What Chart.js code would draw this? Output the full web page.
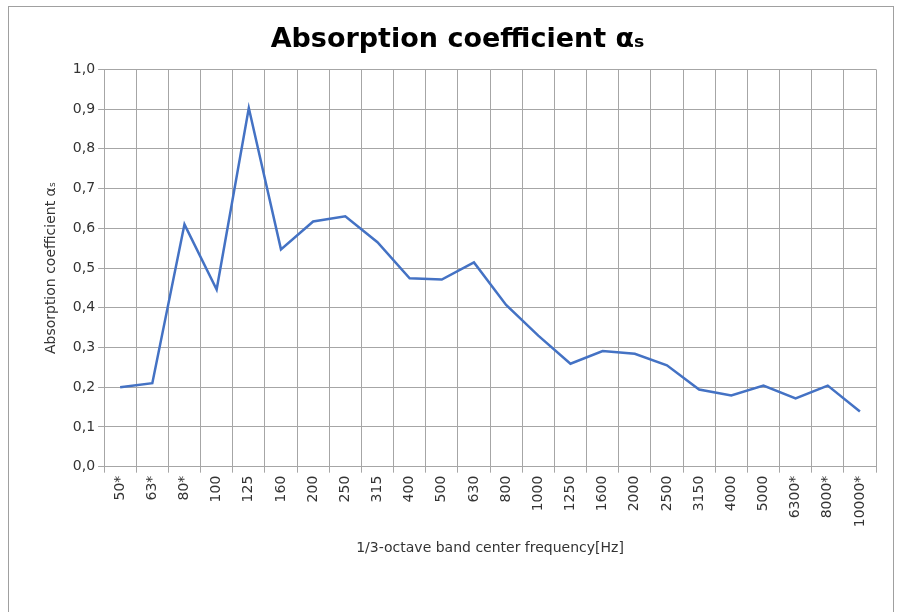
<!DOCTYPE html>
<html>
<head>
<meta charset="utf-8">
<script src="https://cdn.jsdelivr.net/npm/chart.js@4"></script>
<style>
  html, body { margin: 0; padding: 0; background: #fff; overflow: hidden; }
  .frame {
    position: absolute;
    left: 8px;
    top: 6px;
    width: 886px;
    height: 640px;
    border: 1px solid #a0a0a0;
    box-sizing: border-box;
  }
  .wrap { position: absolute; left: 0; top: 0; width: 884px; height: 606px; }
</style>
</head>
<body>
<div class="frame">
  <div class="wrap"><canvas id="absorptionChart"></canvas></div>
</div>
<script>
const frequencies = [
  "50*", "63*", "80*", "100", "125", "160", "200", "250", "315", "400", "500", "630",
  "800", "1000", "1250", "1600", "2000", "2500", "3150", "4000", "5000", "6300*", "8000*", "10000*",
];
const absorption = [
  0.20, 0.21, 0.61, 0.446, 0.903, 0.547, 0.617, 0.63, 0.565, 0.474, 0.471, 0.514,
  0.407, 0.33, 0.259, 0.291, 0.284, 0.255, 0.194, 0.179, 0.204, 0.172, 0.204, 0.139,
];

const fontFamily = "'DejaVu Sans', sans-serif";
const gridColor = "#a6a6a6";

const ctx = document.getElementById("absorptionChart").getContext("2d");

const absorptionChart = new Chart(ctx, {
  type: "line",
  data: {
    labels: frequencies,
    datasets: [
      {
        data: absorption,
        borderColor: "#4472C4",
        borderWidth: 2.5,
        pointRadius: 0,
        tension: 0,
        fill: false,
      },
    ],
  },
  options: {
    responsive: true,
    maintainAspectRatio: false,
    animation: false,
    layout: {
      padding: { left: 30, right: 17, top: 5, bottom: 52 },
    },
    plugins: {
      legend: { display: false },
      tooltip: { enabled: false },
      title: {
        display: true,
        text: "Absorption coefficient αₛ",
        color: "#000",
        font: { family: fontFamily, size: 27, weight: "bold" },
        padding: { top: 12, bottom: 13 },
      },
    },
    scales: {
      x: {
        offset: true,
        grid: {
          offset: true,
          color: gridColor,
          tickLength: 6,
        },
        border: { color: gridColor },
        ticks: {
          color: "#333",
          font: { family: fontFamily, size: 14 },
          minRotation: 90,
          maxRotation: 90,
          autoSkip: false,
        },
        title: {
          display: true,
          text: "1/3-octave band center frequency[Hz]",
          color: "#333",
          font: { family: fontFamily, size: 14 },
          padding: { top: 10 },
        },
      },
      y: {
        min: 0,
        max: 1,
        grid: {
          color: gridColor,
          tickLength: 6,
        },
        border: { color: gridColor },
        ticks: {
          stepSize: 0.1,
          color: "#333",
          font: { family: fontFamily, size: 14 },
          callback: (v) => v.toFixed(1).replace(".", ","),
        },
        title: {
          display: true,
          text: "Absorption coefficient αₛ",
          color: "#333",
          font: { family: fontFamily, size: 14 },
          padding: { bottom: 10 },
        },
      },
    },
  },
});
</script>
</body>
</html>
